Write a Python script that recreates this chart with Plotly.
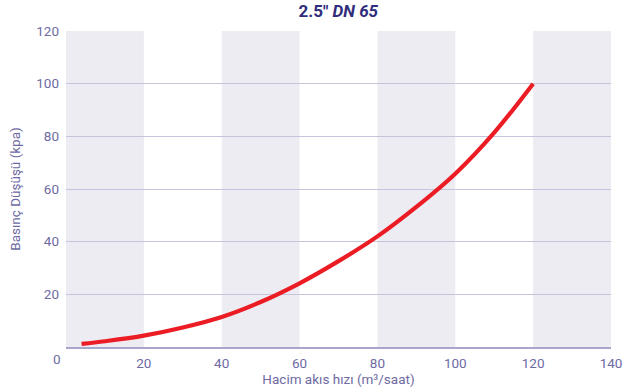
import plotly.graph_objects as go

flow = [4, 10, 20, 30, 40, 50, 60, 70, 80, 90, 100, 110, 120]
pressure = [1.2, 2.2, 4.3, 7.4, 11.4, 17.1, 24.2, 32.6, 42.0, 53.2, 65.8, 81.4, 100.0]

x_ticks = [20, 40, 60, 80, 100, 120, 140]
y_ticks = [20, 40, 60, 80, 100, 120]
band_starts = [0, 40, 80, 120]
band_width = 20

title_text = '<b>2.5" <i>DN 65</i></b>'
x_title = "Hacim akıs hızı (m³/saat)"
y_title = "Basınç Düşüşü (kpa)"

txt = "#6e6aa3"
fig = go.Figure()
fig.add_trace(go.Scatter(x=flow, y=pressure, mode="lines",
                         line=dict(color="#ec1c24", width=4.2, shape="spline", smoothing=1.0),
                         hoverinfo="skip", showlegend=False))

for b in band_starts:
    fig.add_shape(type="rect", xref="x", yref="y", x0=b, x1=b + band_width,
                  y0=0, y1=120, fillcolor="#edecf3", line_width=0, layer="below")

fig.update_layout(
    width=630, height=389,
    margin=dict(l=66, r=19, t=31, b=42, autoexpand=False),
    paper_bgcolor="white", plot_bgcolor="white",
    font=dict(family="Roboto", color=txt, size=13.5),
    title=dict(text=title_text, x=0.537, xanchor="center", y=0.971, yanchor="middle",
               font=dict(size=17, color="#2f2d7c")),
    xaxis=dict(range=[0, 140], tickvals=x_ticks, showgrid=False, zeroline=False,
               showline=True, linecolor="#a9a6cc", linewidth=1.5, ticks="",
               ticklabelstandoff=3, automargin=False,
               title=dict(text=x_title, font=dict(size=13.5, color=txt), standoff=5)),
    yaxis=dict(range=[0, 120], tickvals=y_ticks, showgrid=True, gridcolor="#c6c4dc",
               gridwidth=1, zeroline=False, showline=False, ticks="",
               ticklabelstandoff=6, automargin=False,
               title=dict(text=y_title, font=dict(size=13.5, color=txt), standoff=12)),
    annotations=[dict(text="0", xref="paper", yref="paper", x=0, y=0, xanchor="right",
                      yanchor="top", xshift=-3, yshift=-2, showarrow=False,
                      font=dict(size=13.5, color=txt))],
)

fig.write_html("out.html", config={"displayModeBar": False, "staticPlot": True},
               post_script="document.body.style.margin='0';")
